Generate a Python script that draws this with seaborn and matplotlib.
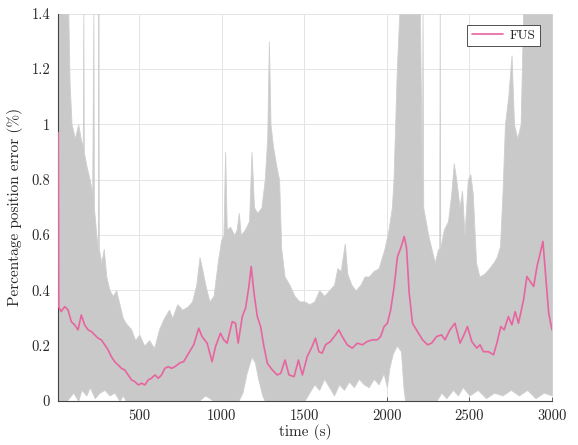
import matplotlib
matplotlib.use("Agg")
import matplotlib.pyplot as plt
import seaborn as sns
import numpy as np
import pandas as pd

# FUS mean percentage position error
fus_t = [9, 12, 27, 48, 68, 88, 108, 129, 149, 169, 190, 210, 230, 250, 270, 291, 311,
         331, 351, 372, 392, 412, 433, 453, 473, 494, 514, 534, 554, 574, 595, 615, 635,
         655, 676, 696, 716, 747, 769, 799, 830, 860, 880, 911, 941, 962, 992, 1012, 1032,
         1063, 1083, 1099, 1124, 1144, 1164, 1178, 1195, 1215, 1235, 1255, 1276, 1306,
         1336, 1357, 1383, 1407, 1438, 1464, 1488, 1517, 1547, 1567, 1588, 1608, 1628,
         1658, 1689, 1709, 1729, 1760, 1790, 1821, 1851, 1881, 1912, 1942, 1962, 1983,
         2003, 2023, 2044, 2064, 2084, 2105, 2119, 2135, 2155, 2185, 2216, 2246, 2271,
         2301, 2331, 2352, 2382, 2412, 2443, 2467, 2488, 2514, 2544, 2564, 2585, 2615,
         2646, 2666, 2690, 2710, 2736, 2757, 2777, 2797, 2828, 2848, 2868, 2889, 2909,
         2929, 2945, 2959, 2980, 3000]
fus_v = [0.97, 0.34, 0.323, 0.341, 0.33, 0.287, 0.275, 0.257, 0.311, 0.275, 0.257, 0.251,
         0.239, 0.227, 0.221, 0.203, 0.185, 0.16, 0.142, 0.13, 0.118, 0.112, 0.094, 0.076,
         0.07, 0.058, 0.064, 0.058, 0.076, 0.082, 0.094, 0.082, 0.094, 0.118, 0.124, 0.118,
         0.124, 0.138, 0.142, 0.173, 0.203, 0.263, 0.233, 0.209, 0.142, 0.197, 0.245,
         0.221, 0.209, 0.287, 0.281, 0.209, 0.305, 0.336, 0.414, 0.486, 0.39, 0.305, 0.269,
         0.197, 0.136, 0.112, 0.094, 0.1, 0.148, 0.094, 0.088, 0.148, 0.094, 0.16, 0.197,
         0.227, 0.178, 0.173, 0.203, 0.215, 0.239, 0.257, 0.233, 0.203, 0.191, 0.209, 0.203,
         0.215, 0.221, 0.221, 0.233, 0.269, 0.281, 0.33, 0.414, 0.522, 0.553, 0.595, 0.553,
         0.39, 0.281, 0.251, 0.221, 0.203, 0.209, 0.233, 0.239, 0.221, 0.257, 0.281, 0.209,
         0.239, 0.269, 0.215, 0.191, 0.203, 0.178, 0.178, 0.167, 0.209, 0.269, 0.257, 0.305,
         0.275, 0.323, 0.281, 0.366, 0.45, 0.432, 0.414, 0.486, 0.535, 0.577, 0.474, 0.317,
         0.257]

# Upper envelope of the individual runs (grey band)
band_up_t = [9, 70, 78, 90, 110, 130, 145, 158, 161, 164, 180, 200, 215, 222, 225, 240,
             250, 252, 255, 270, 285, 300, 320, 340, 360, 380, 400, 420, 450, 475, 500,
             530, 560, 590, 620, 650, 680, 700, 730, 760, 790, 820, 845, 865, 880, 900,
             925, 950, 975, 995, 1010, 1020, 1030, 1050, 1075, 1090, 1103, 1115, 1140,
             1165, 1180, 1195, 1215, 1240, 1260, 1275, 1285, 1295, 1310, 1330, 1347, 1360,
             1380, 1410, 1440, 1470, 1500, 1530, 1560, 1590, 1620, 1650, 1680, 1700, 1720,
             1745, 1760, 1785, 1810, 1840, 1865, 1890, 1920, 1950, 1985, 2010, 2030, 2040,
             2060, 2075, 2200, 2212, 2216, 2220, 2235, 2250, 2270, 2290, 2310, 2317, 2320,
             2323, 2345, 2370, 2390, 2405, 2420, 2440, 2455, 2470, 2490, 2505, 2520, 2540,
             2560, 2590, 2620, 2645, 2665, 2685, 2700, 2715, 2735, 2755, 2770, 2790, 2810,
             2825, 3000]
band_up_v = [1.4, 1.4, 1.15, 1.0, 0.95, 1.0, 0.95, 0.92, 1.4, 0.9, 0.85, 0.8, 0.75, 1.4,
             0.7, 0.6, 0.55, 1.4, 0.55, 0.5, 0.55, 0.45, 0.4, 0.38, 0.4, 0.35, 0.3, 0.28,
             0.26, 0.22, 0.24, 0.2, 0.22, 0.19, 0.26, 0.3, 0.33, 0.3, 0.35, 0.33, 0.34,
             0.36, 0.42, 0.52, 0.48, 0.42, 0.36, 0.38, 0.5, 0.58, 0.6, 0.9, 0.62, 0.63, 0.6,
             0.62, 0.68, 0.6, 0.62, 0.65, 0.9, 0.7, 0.68, 0.7, 0.8, 0.95, 1.3, 1.0, 0.92,
             0.85, 0.8, 0.55, 0.45, 0.42, 0.38, 0.36, 0.36, 0.35, 0.36, 0.4, 0.38, 0.4, 0.42,
             0.48, 0.47, 0.57, 0.46, 0.42, 0.4, 0.42, 0.45, 0.45, 0.47, 0.48, 0.55, 0.62,
             0.7, 0.8, 1.2, 1.4, 1.4, 0.8, 1.4, 0.7, 0.65, 0.6, 0.55, 0.5, 0.55, 0.55, 1.4,
             0.55, 0.62, 0.65, 0.75, 0.86, 0.8, 0.7, 0.76, 0.6, 0.8, 0.82, 0.75, 0.5, 0.45,
             0.46, 0.48, 0.5, 0.52, 0.56, 0.75, 1.0, 1.1, 1.25, 1.0, 0.95, 1.0, 1.4, 1.4]

# Lower envelope of the individual runs
band_lo_t = [9, 60, 100, 130, 150, 180, 200, 230, 260, 290, 320, 350, 380, 400, 420, 860,
             900, 950, 1100, 1125, 1150, 1180, 1200, 1220, 1245, 1260, 1500, 1530, 1560,
             1590, 1620, 1650, 1680, 1710, 1740, 1770, 1800, 1830, 1860, 1890, 1920, 1950,
             1980, 2000, 2015, 2035, 2060, 2085, 2100, 2110, 2300, 2330, 2360, 2400, 2430,
             2460, 2500, 2550, 2600, 2650, 2700, 2750, 2800, 2850, 2900, 2950, 3000]
band_lo_v = [0.0, 0.0, 0.03, 0.0, 0.04, 0.02, 0.05, 0.01, 0.03, 0.04, 0.02, 0.03, 0.0, 0.02,
             0.0, 0.0, 0.02, 0.0, 0.0, 0.03, 0.1, 0.16, 0.14, 0.08, 0.02, 0.0, 0.0, 0.03,
             0.06, 0.04, 0.08, 0.05, 0.02, 0.06, 0.04, 0.07, 0.05, 0.08, 0.06, 0.05, 0.08,
             0.06, 0.1, 0.05, 0.12, 0.17, 0.2, 0.18, 0.05, 0.0, 0.0, 0.03, 0.01, 0.04, 0.02,
             0.05, 0.02, 0.04, 0.01, 0.03, 0.02, 0.04, 0.02, 0.04, 0.01, 0.03, 0.02]

x_ticks = [500, 1000, 1500, 2000, 2500, 3000]
x_tick_labels = ["500", "1000", "1500", "2000", "2500", "3000"]
y_ticks = [0, 0.2, 0.4, 0.6, 0.8, 1.0, 1.2, 1.4]
y_tick_labels = ["0", "0.2", "0.4", "0.6", "0.8", "1", "1.2", "1.4"]

sns.set_theme(style="white")
plt.rcParams["font.family"] = ["cmr10", "DejaVu Serif"]
plt.rcParams["axes.formatter.use_mathtext"] = True

fig = plt.figure(figsize=(5.78, 4.45), dpi=100)
ax = fig.add_axes([0.101, 0.099, 0.854, 0.870])

# grey band built from envelopes on a common grid
grid_t = np.union1d(band_up_t, band_lo_t)
up = np.interp(grid_t, band_up_t, band_up_v)
lo = np.interp(grid_t, band_lo_t, band_lo_v)
ax.fill_between(grid_t, lo, up, color="#c9c9c9", linewidth=0.6, edgecolor="#cfcfcf", zorder=2)

df = pd.DataFrame({"t": fus_t, "v": fus_v})
sns.lineplot(data=df, x="t", y="v", ax=ax, color="#e8649f", linewidth=1.2,
             label="FUS", zorder=3)

ax.set_xlim(10, 3000)
ax.set_ylim(0, 1.4)
ax.set_xticks(x_ticks)
ax.set_xticklabels(x_tick_labels)
ax.set_yticks(y_ticks)
ax.set_yticklabels(y_tick_labels)
ax.grid(True, color="#e4e4e4", linewidth=0.7, zorder=0)
ax.set_axisbelow(True)

for s in ["top", "right"]:
    ax.spines[s].set_visible(False)
for s in ["left", "bottom"]:
    ax.spines[s].set_color("#444444")
    ax.spines[s].set_linewidth(0.8)
ax.spines["bottom"].set_zorder(4)

ax.tick_params(axis="both", direction="in", length=3, width=0.6, colors="#444444",
               labelcolor="#262626", labelsize=10.5, pad=6)
ax.tick_params(axis="x", bottom=True)
ax.tick_params(axis="y", left=True)

ax.set_xlabel("time (s)", fontsize=11, color="#262626", labelpad=1)
ax.set_ylabel("Percentage position error (%)", fontsize=11, color="#262626", labelpad=6)

leg = ax.legend(loc="upper right", bbox_to_anchor=(0.982, 0.978), fontsize=9.5,
                frameon=True, fancybox=False, framealpha=1, edgecolor="#333333",
                handlelength=2.4, borderpad=0.35, handletextpad=0.5, borderaxespad=0.2)
leg.get_frame().set_linewidth(0.6)

fig.savefig("out.png", dpi=100)
